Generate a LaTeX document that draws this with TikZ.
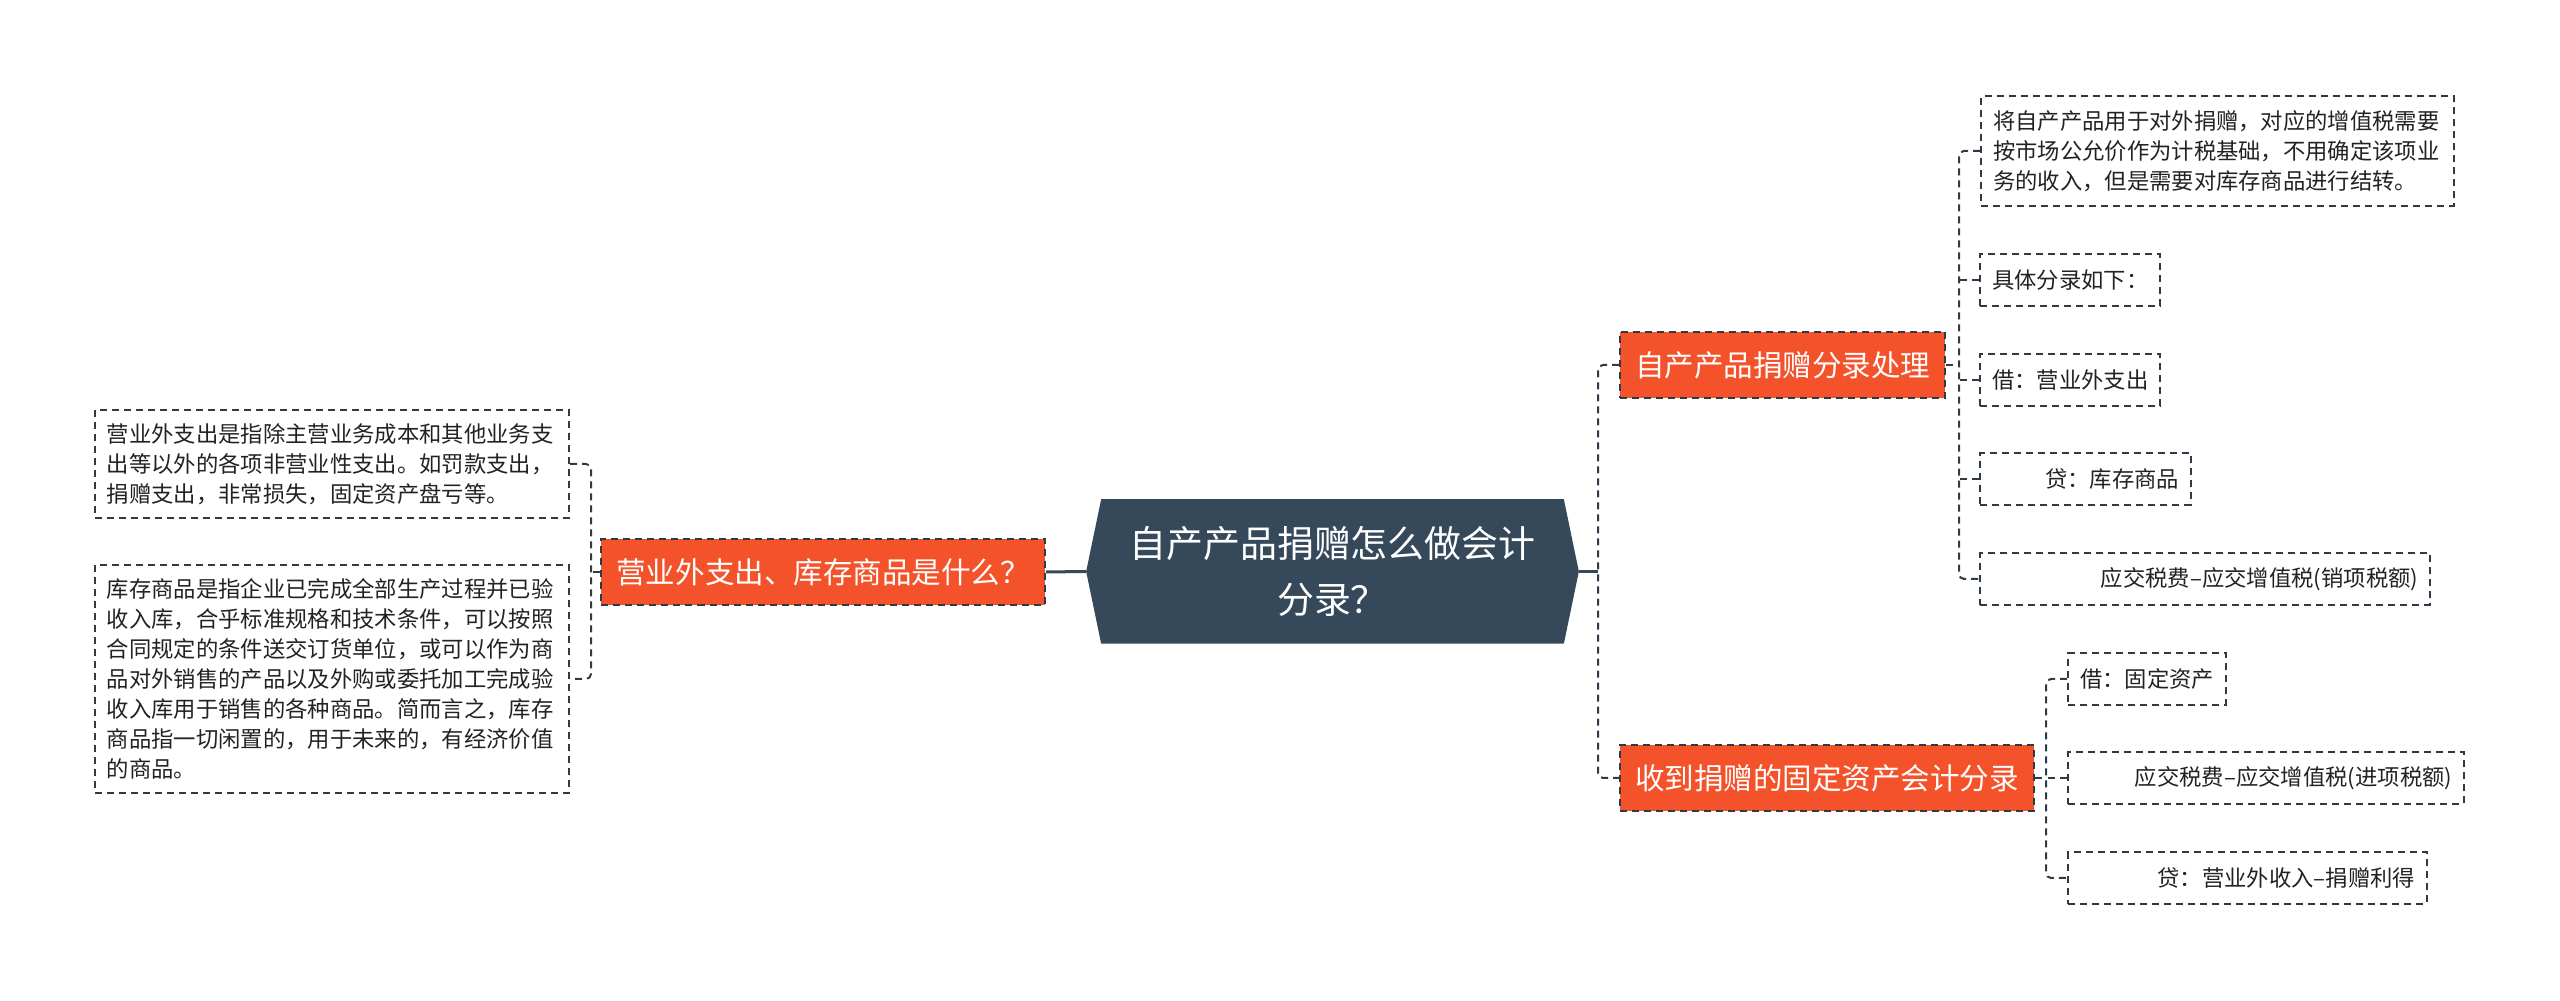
\documentclass[tikz,border=0pt]{standalone}
\usepackage{fontspec}
\setmainfont{Noto Sans CJK SC}
\usetikzlibrary{backgrounds}
\definecolor{hubfill}{HTML}{36495A}
\definecolor{branchfill}{HTML}{F4522B}
\definecolor{edgegray}{HTML}{2E3B46}
\definecolor{leaftext}{HTML}{222222}

\begin{document}
\begin{tikzpicture}[x=0.01cm, y=-0.01cm,
        dashline/.style={draw=edgegray, line width=0.02cm, dash pattern=on 0.07cm off 0.05cm},
        branch/.style={dashline, fill=branchfill, text=white, font=\fontsize{8.4pt}{10pt}\selectfont, minimum height=0.66cm, inner xsep=0.15cm},
        leaf/.style={dashline, text=leaftext, font=\fontsize{6.35pt}{8.55pt}\selectfont, minimum height=0.51cm, inner xsep=0.12cm, inner ysep=0pt},
        link/.style={dashline, rounded corners=0.05cm},
        hublink/.style={draw=hubfill, line width=0.03cm}]

        \useasboundingbox (0,0) rectangle (2560,1001);

        \node[text=white, font=\fontsize{10.5pt}{15.9pt}\selectfont, align=center, minimum width=4.91cm, minimum height=1.43cm] (hub) at (1332.5,571.5) {自产产品捐赠怎么做会计\\分录？};
        \begin{scope}[on background layer]
        \fill[hubfill] (hub.west) -- ([xshift=0.15cm]hub.north west) -- ([xshift=-0.15cm]hub.north east) -- (hub.east) -- ([xshift=-0.15cm]hub.south east) -- ([xshift=0.15cm]hub.south west) -- cycle;
        \end{scope}

        \node[branch, minimum width=4.35cm, anchor=east] (lq) at (1046,572) {营业外支出、库存商品是什么？};
        \node[leaf, text width=4.5cm, align=left, minimum height=1.08cm, anchor=east] (la) at (570,464) {营业外支出是指除主营业务成本和其他业务支\\出等以外的各项非营业性支出。如罚款支出，\\捐赠支出，非常损失，固定资产盘亏等。};
        \node[leaf, text width=4.5cm, align=left, minimum height=2.28cm, anchor=east] (lb) at (570,679) {库存商品是指企业已完成全部生产过程并已验\\收入库，合乎标准规格和技术条件，可以按照\\合同规定的条件送交订货单位，或可以作为商\\品对外销售的产品以及外购或委托加工完成验\\收入库用于销售的各种商品。简而言之，库存\\商品指一切闲置的，用于未来的，有经济价值\\的商品。};

        \node[branch, minimum width=3.2cm, anchor=west] (r1) at (1619,365) {自产产品捐赠分录处理};
        \node[branch, minimum width=4.07cm, anchor=west] (r2) at (1619,778) {收到捐赠的固定资产会计分录};

        \node[leaf, text width=4.49cm, align=left, minimum height=1.09cm, anchor=west] (ra) at (1980,151) {将自产产品用于对外捐赠，对应的增值税需要\\按市场公允价作为计税基础，不用确定该项业\\务的收入，但是需要对库存商品进行结转。};
        \node[leaf, anchor=west] (rb) at (1979,280) {具体分录如下：};
        \node[leaf, anchor=west] (rc) at (1979,380) {借：营业外支出};
        \node[leaf, text width=1.87cm, align=right, anchor=west] (rd) at (1979,479) {贷：库存商品};
        \node[leaf, text width=4.26cm, align=right, anchor=west] (re) at (1979,579) {应交税费–应交增值税(销项税额)};

        \node[leaf, anchor=west] (rf) at (2067,679) {借：固定资产};
        \node[leaf, text width=3.72cm, align=right, anchor=west] (rg) at (2067,778) {应交税费–应交增值税(进项税额)};
        \node[leaf, text width=3.35cm, align=right, anchor=west] (rh) at (2067,878) {贷：营业外收入–捐赠利得};

        \coordinate (jl) at (591,572);
        \coordinate (jr) at (1598,571.5);
        \coordinate (j1) at (1959,365);
        \coordinate (j2) at (2046,778);

        \draw[hublink] (hub.west) -- (lq.east);
        \draw[hublink] (hub.east) -- (jr);

        \draw[link] (lq.west) -- (jl);
        \draw[link] (la.east) -| (jl) |- (lb.east);

        \draw[link] (r1.west) -| (jr) |- (r2.west);

        \draw[link] (r1.east) -- (j1);
        \draw[link] (ra.west) -| (j1) |- (re.west);
        \draw[link] (rb.west) -- (rb.west -| j1);
        \draw[link] (rc.west) -- (rc.west -| j1);
        \draw[link] (rd.west) -- (rd.west -| j1);

        \draw[link] (r2.east) -- (j2);
        \draw[link] (rf.west) -| (j2) |- (rh.west);
        \draw[link] (rg.west) -- (rg.west -| j2);
\end{tikzpicture}
\end{document}
